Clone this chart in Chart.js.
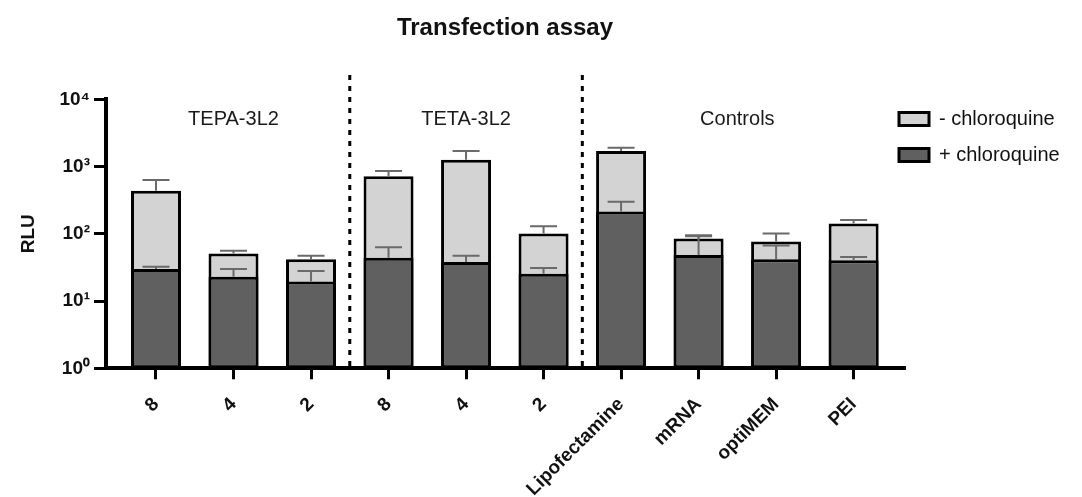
<!DOCTYPE html>
<html>
<head>
<meta charset="utf-8">
<script src="https://cdn.jsdelivr.net/npm/chart.js@4"></script>
<style>
  html, body { margin: 0; padding: 0; background: #ffffff; }
  #wrap { width: 1082px; height: 497px; }
</style>
</head>
<body>
<div id="wrap"><canvas id="c" width="1082" height="497"></canvas></div>
<script>
// ---------- data ----------
const categories = ['8', '4', '2', '8', '4', '2', 'Lipofectamine', 'mRNA', 'optiMEM', 'PEI'];
const minusCQ      = [437, 51, 42, 720, 1260, 101, 1700, 85, 77, 142];
const minusCQUpper = [630, 56, 47, 860, 1700, 130, 1900, 95, 101, 160];
const plusCQ       = [30, 23, 19.5, 44, 38, 25.5, 215, 48.5, 42, 40.5];
const plusCQUpper  = [32.5, 30, 28, 63, 47, 31, 300, 92, 67, 45];
const groupNames   = ['TEPA-3L2', 'TETA-3L2', 'Controls'];
const groupFirst   = [0, 3, 6];
const groupLast    = [2, 5, 9];
const yTickValues  = [1, 10, 100, 1000, 10000];
const yTickLabels  = ['10\u2070', '10\u00B9', '10\u00B2', '10\u00B3', '10\u2074'];

// ---------- styles ----------
const FONT = "'Liberation Sans', Arial, Helvetica, sans-serif";
const LIGHT = '#d3d3d3';
const DARK = '#606060';

const overlayPlugin = {
  id: 'overlay',
  afterLayout(chart) {
    const lg = chart.legend;
    if (!lg) return;
    const pad = lg.options.labels.padding;
    const dx = 899 - pad - lg.left;
    lg.left += dx; lg.right += dx;
    const dy = 93 - lg.top;
    lg.top += dy; lg.bottom += dy;
  },
  afterDatasetsDraw(chart) {
    const ctx = chart.ctx;
    const xs = chart.scales.x, ys = chart.scales.y;
    const ca = chart.chartArea;
    ctx.save();
    // error bars
    const series = [[minusCQ, minusCQUpper], [plusCQ, plusCQUpper]];
    ctx.strokeStyle = '#6a6a6a';
    ctx.lineWidth = 2;
    series.forEach(([vals, ups]) => {
      vals.forEach((v, i) => {
        const x = xs.getPixelForValue(i);
        const y0 = ys.getPixelForValue(v);
        const y1 = ys.getPixelForValue(ups[i]);
        ctx.beginPath();
        ctx.moveTo(x, y0);
        ctx.lineTo(x, y1);
        ctx.moveTo(x - 13.5, y1);
        ctx.lineTo(x + 13.5, y1);
        ctx.stroke();
      });
    });
    // dashed group separators
    ctx.strokeStyle = '#000';
    ctx.lineWidth = 3;
    ctx.setLineDash([5, 6]);
    for (let g = 1; g < groupFirst.length; g++) {
      const x = xs.getPixelForValue((groupLast[g - 1] + groupFirst[g]) / 2);
      ctx.beginPath();
      ctx.moveTo(x, 75);
      ctx.lineTo(x, ca.bottom);
      ctx.stroke();
    }
    ctx.setLineDash([]);
    // group labels
    ctx.fillStyle = '#1a1a1a';
    ctx.font = '20px ' + FONT;
    ctx.textAlign = 'center';
    ctx.textBaseline = 'alphabetic';
    groupNames.forEach((name, g) => {
      const x = xs.getPixelForValue((groupFirst[g] + groupLast[g]) / 2);
      ctx.fillText(name, x, 125);
    });
    ctx.restore();
  }
};

new Chart(document.getElementById('c'), {
  type: 'bar',
  data: {
    datasets: [
      {
        label: '- chloroquine',
        data: minusCQ.map((v, i) => ({ x: i, y: v })),
        backgroundColor: LIGHT,
        borderColor: '#000',
        borderWidth: 3,
        borderSkipped: false,
        order: 1
      },
      {
        label: '+ chloroquine',
        data: plusCQ.map((v, i) => ({ x: i, y: v })),
        backgroundColor: DARK,
        borderColor: '#000',
        borderWidth: 3,
        borderSkipped: false,
        order: 0
      }
    ]
  },
  options: {
    responsive: false,
    animation: false,
    devicePixelRatio: 1,
    categoryPercentage: 1,
    barPercentage: 0.645,
    layout: { padding: 0 },
    plugins: {
      tooltip: { enabled: false },
      title: {
        display: true,
        text: 'Transfection assay',
        fullSize: false,
        color: '#111',
        font: { family: FONT, size: 24, weight: 'bold' },
        padding: { top: 14, bottom: 56.5 }
      },
      legend: {
        display: true,
        position: 'right',
        align: 'start',
        fullSize: false,
        reverse: true,
        maxWidth: 178,
        labels: {
          boxWidth: 30,
          boxHeight: 13,
          padding: 16,
          color: '#111',
          font: { family: FONT, size: 20 }
        }
      }
    },
    scales: {
      x: {
        type: 'linear',
        stacked: true,
        offset: false,
        min: -0.645,
        max: 9.65,
        afterBuildTicks(scale) {
          scale.ticks = categories.map((_, i) => ({ value: i }));
        },
        afterFit(scale) { scale.height = 497 - 368.3; },
        ticks: {
          autoSkip: false,
          minRotation: 45,
          maxRotation: 45,
          padding: 14,
          color: '#111',
          font: { family: FONT, size: 19, weight: 'bold' },
          callback: (v) => categories[v]
        },
        grid: { offset: false, drawOnChartArea: false, drawTicks: true, tickLength: 11, color: '#000', lineWidth: 3 },
        border: { display: true, color: '#000', width: 4 }
      },
      y: {
        type: 'logarithmic',
        stacked: false,
        min: 1,
        max: 10000,
        afterBuildTicks(scale) {
          scale.ticks = yTickValues.map(v => ({ value: v }));
        },
        afterFit(scale) { scale.width = 106; },
        ticks: {
          padding: 4,
          color: '#111',
          font: { family: FONT, size: 19, weight: 'bold' },
          callback: (v, i) => yTickLabels[i]
        },
        grid: { drawOnChartArea: false, drawTicks: true, tickLength: 12, color: '#000', lineWidth: 3 },
        border: { display: true, color: '#000', width: 4 },
        title: {
          display: true,
          text: 'RLU',
          color: '#111',
          font: { family: FONT, size: 19, weight: 'bold' },
          padding: { top: 17, bottom: 4 }
        }
      }
    }
  },
  plugins: [overlayPlugin]
});
</script>
</body>
</html>
